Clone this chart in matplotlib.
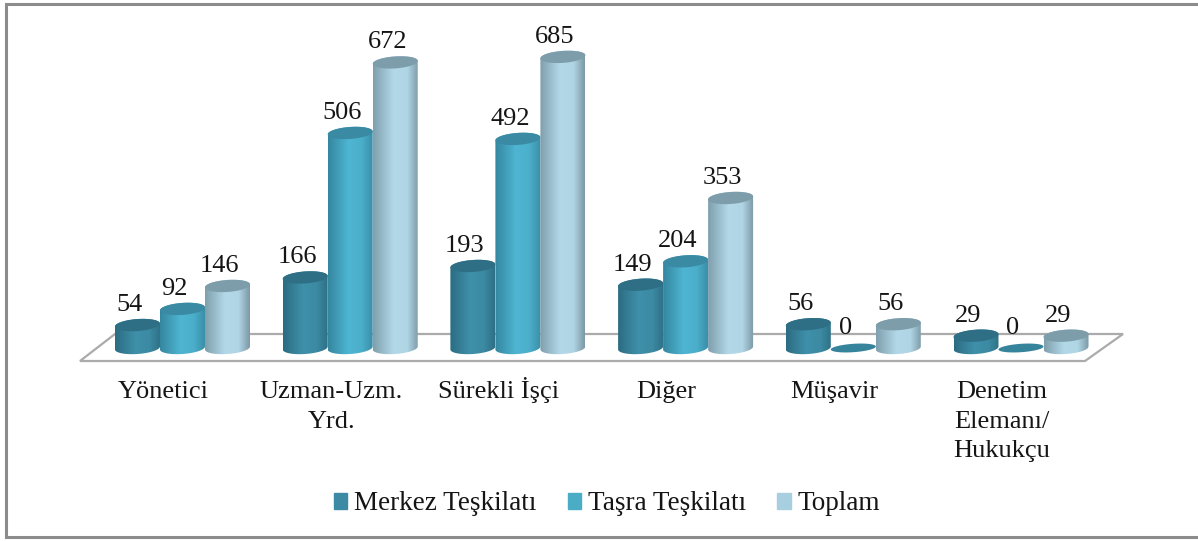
import numpy as np
import matplotlib
matplotlib.use("Agg")
import matplotlib.pyplot as plt
from matplotlib.colors import LinearSegmentedColormap
from matplotlib.lines import Line2D
from matplotlib.patches import Polygon, Patch, PathPatch
from matplotlib.path import Path
from matplotlib.transforms import Affine2D

categories = ["Yönetici", "Uzman-Uzm.\nYrd.", "Sürekli İşçi", "Diğer", "Müşavir", "Denetim\nElemanı/\nHukukçu"]
series_names = ["Merkez Teşkilatı", "Taşra Teşkilatı", "Toplam"]
merkez = [54, 166, 193, 149, 56, 29]
tasra = [92, 506, 492, 204, 0, 0]
toplam = [146, 672, 685, 353, 56, 29]
series_values = [merkez, tasra, toplam]

W, H = 1198, 541
plt.rcParams["font.family"] = ["Liberation Serif", "DejaVu Serif"]
fig = plt.figure(figsize=(W / 100, H / 100), dpi=100)
ax = fig.add_axes([0, 0, 1, 1])

# scale: category step 167.7 px, 0.425 px per unit, zero at y=348 px, first group centre x=182.5 px
STEP, XC, SY, Y0 = 167.7, 182.5, 0.425, 348
ax.set_xlim(-XC / STEP, (W - XC) / STEP)
ax.set_ylim((Y0 - H) / SY, Y0 / SY)
ax.axis("off")
px = Affine2D().scale(1, -1).translate(0, H)  # pixel coordinates, origin top-left

# frame (open on the right, as cropped in the reference) and floor
fig.add_artist(Line2D([W, 6, 6, W], [3.5, 3.5, 537, 537], transform=px, color="#8c8c8c", lw=2.2,
                      solid_joinstyle="miter"))
ax.add_patch(Polygon([(80, 361), (1085, 361), (1123, 334), (115, 334)], closed=True, transform=px,
                     fc="white", ec="#ababab", lw=1.6, zorder=1))

bar_w = 45 / STEP
ell_h = 12 / SY
tilt = (3 / SY) / bar_w          # ellipses rise slightly to the right
offset = [-45 / STEP, 0, 45 / STEP]
body = [["#2b6c82", "#3f90aa", "#3c8aa3", "#2d7086"],
        ["#35869f", "#4eb5d2", "#4bafcb", "#3b8fa8"],
        ["#7f9fad", "#b3d9e9", "#b0d5e5", "#7b98a5"]]
tops = ["#2e6f85", "#3a8aa3", "#7d9dab"]
legend_colors = ["#3c8aa3", "#4bacc6", "#a8cfe0"]
grad = np.linspace(0, 1, 128).reshape(1, -1)


def ellipse_points(cx, cy, height, t):
    dx = bar_w / 2 * np.cos(t)
    return np.column_stack([cx + dx, cy + height / 2 * np.sin(t) + tilt * dx])


z = 2
for i in range(len(categories)):
    for s in range(3):
        v = series_values[s][i]
        cx = i + offset[s]
        x0, x1 = cx - bar_w / 2, cx + bar_w / 2
        if v > 0:
            cmap = LinearSegmentedColormap.from_list(
                "c", list(zip([0, 0.45, 0.75, 1], body[s])))
            low = ellipse_points(cx, 0, ell_h, np.linspace(np.pi, 2 * np.pi, 40))
            up = ellipse_points(cx, v, ell_h, np.linspace(0, np.pi, 40))
            clip = PathPatch(Path(np.vstack([low, up, low[:1]]), closed=False),
                             transform=ax.transData, fc="none", ec="none")
            ax.add_patch(clip)
            im = ax.imshow(grad, extent=[x0, x1, low[:, 1].min() - 5, v + ell_h], aspect="auto", cmap=cmap,
                           interpolation="bilinear", zorder=z)
            im.set_clip_path(clip)
            top_color, h = tops[s], ell_h
        else:
            top_color, h = "#36839c", ell_h * 0.7
        ax.add_patch(Polygon(ellipse_points(cx, v, h, np.linspace(0, 2 * np.pi, 80)), closed=True,
                             fc=top_color, ec="none", zorder=z + 0.5))
        ax.annotate(str(v), (cx, v), xytext=(-8 * 0.72, 9 * 0.72), textcoords="offset points",
                    ha="center", va="bottom", fontsize=19, color="#151515", zorder=50)
        z += 1

ax.set_xlim(-XC / STEP, (W - XC) / STEP)
ax.set_ylim((Y0 - H) / SY, Y0 / SY)

for i, c in enumerate(categories):
    for n, line in enumerate(c.split("\n")):
        ax.annotate(line, (i, 0), xytext=(-19 * 0.72, -(50 + 29.5 * n) * 0.72), textcoords="offset points",
                    ha="center", va="baseline", fontsize=19, color="#151515", annotation_clip=False)

handles = [Patch(color=c, label=n) for c, n in zip(legend_colors, series_names)]
fig.legend(handles=handles, loc="center", bbox_to_anchor=(607 / W, 1 - 504 / H), ncol=3, frameon=False,
           fontsize=19.5, handlelength=0.5, handleheight=0.5, handletextpad=0.25, columnspacing=1.15,
           labelcolor="#151515")

fig.savefig("out.png", dpi=100)
